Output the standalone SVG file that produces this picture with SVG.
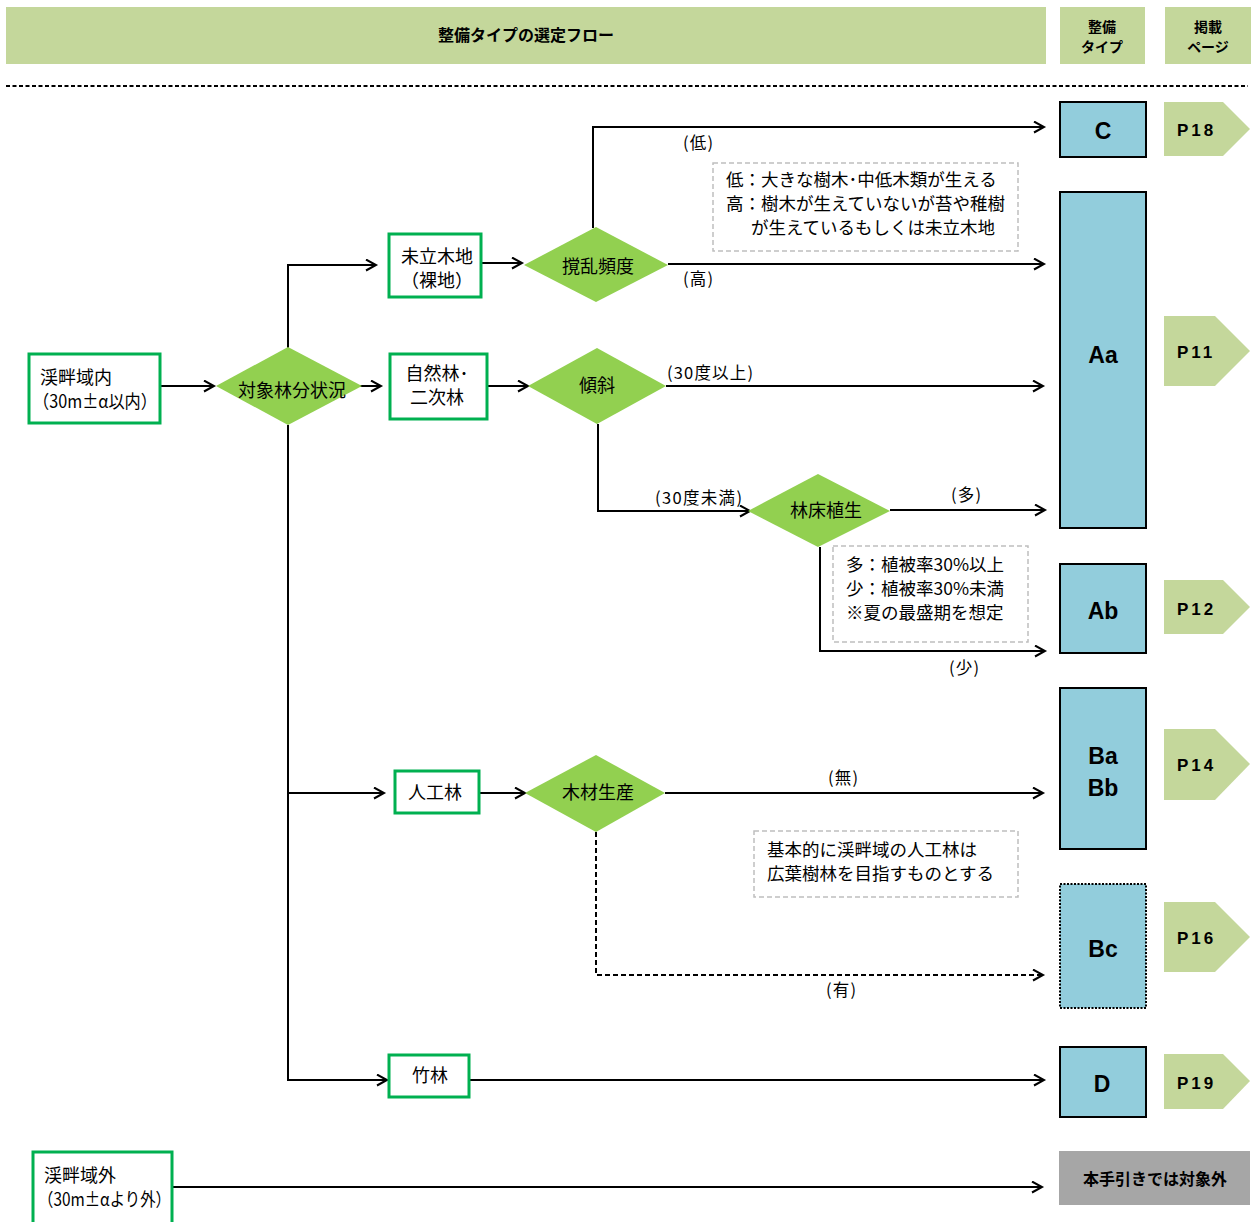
<svg xmlns="http://www.w3.org/2000/svg" width="1251" height="1222" viewBox="0 0 1251 1222">
<defs>
<style>
text{font-family:"Noto Sans CJK JP","Noto Sans",sans-serif;fill:#000}
.hdr{fill:#c4d79b}
.hdrt{font-size:16px;font-weight:bold;text-anchor:middle}
.hs{font-size:14px;font-weight:bold;text-anchor:middle}
.box{fill:#fff;stroke:#00b050;stroke-width:3}
.dia{fill:#92d050}
.nt{font-size:18px}
.ntc{font-size:18px;text-anchor:middle}
.lbl{font-size:16.5px}
.note{fill:#fff;stroke:#bfbfbf;stroke-width:1.5;stroke-dasharray:5 3}
.nt2{font-size:17.5px}
.type{fill:#92cddc;stroke:#000;stroke-width:2}
.typet{font-family:"Liberation Sans",Arial,sans-serif;font-size:23px;font-weight:bold;text-anchor:middle}
.tag{fill:#c4d79b}
.tagt{font-family:"Liberation Sans",Arial,sans-serif;font-size:17px;font-weight:bold;letter-spacing:3px}
.ln{fill:none;stroke:#000;stroke-width:2}
.dash{stroke-dasharray:5 3}
</style>
<marker id="arr" markerUnits="userSpaceOnUse" markerWidth="14" markerHeight="14" refX="11" refY="6" orient="auto">
<path d="M1,0.5 L11,6 L1,11.5" fill="none" stroke="#000" stroke-width="2"/>
</marker>
</defs>
<rect width="1251" height="1222" fill="#fff"/>

<g id="header">
<rect class="hdr" x="6" y="7" width="1040" height="57"/>
<text class="hdrt" x="526" y="41">整備タイプの選定フロー</text>
<rect class="hdr" x="1060" y="7" width="85" height="57"/>
<text class="hs" x="1102" y="32">整備</text>
<text class="hs" x="1102" y="52">タイプ</text>
<rect class="hdr" x="1165" y="7" width="86" height="57"/>
<text class="hs" x="1208" y="32">掲載</text>
<text class="hs" x="1208" y="52">ページ</text>
<line x1="6" y1="86" x2="1248" y2="86" stroke="#000" stroke-width="2" stroke-dasharray="4 2.5"/>
</g>

<g id="connectors">
<path class="ln" d="M160,386 H214" marker-end="url(#arr)"/>
<path class="ln" d="M288,348 V265 H376" marker-end="url(#arr)"/>
<path class="ln" d="M360,386 H381" marker-end="url(#arr)"/>
<path class="ln" d="M288,425 V1080 H387" marker-end="url(#arr)"/>
<path class="ln" d="M288,793 H384" marker-end="url(#arr)"/>
<path class="ln" d="M481,263 H522" marker-end="url(#arr)"/>
<path class="ln" d="M593,228 V127 H1044" marker-end="url(#arr)"/>
<path class="ln" d="M668,264 H1044" marker-end="url(#arr)"/>
<path class="ln" d="M487,386 H528" marker-end="url(#arr)"/>
<path class="ln" d="M666,386 H1043" marker-end="url(#arr)"/>
<path class="ln" d="M598,424 V511 H750" marker-end="url(#arr)"/>
<path class="ln" d="M890,510 H1045" marker-end="url(#arr)"/>
<path class="ln" d="M820,547 V651 H1045" marker-end="url(#arr)"/>
<path class="ln" d="M479,793 H525" marker-end="url(#arr)"/>
<path class="ln" d="M665,793 H1043" marker-end="url(#arr)"/>
<path class="ln dash" d="M596,832 V975 H1043" marker-end="url(#arr)"/>
<path class="ln" d="M469,1080 H1044" marker-end="url(#arr)"/>
<path class="ln" d="M172,1187 H1042" marker-end="url(#arr)"/>
<text class="lbl" x="683" y="149" textLength="30">(低)</text>
<text class="lbl" x="683" y="285" textLength="30">(高)</text>
<text class="lbl" x="667" y="379" textLength="86">(30度以上)</text>
<text class="lbl" x="655" y="504" textLength="87">(30度未満)</text>
<text class="lbl" x="951" y="501" textLength="30">(多)</text>
<text class="lbl" x="949" y="674" textLength="30">(少)</text>
<text class="lbl" x="828" y="784" textLength="30">(無)</text>
<text class="lbl" x="826" y="996" textLength="30">(有)</text>
</g>

<g id="n-keihan-nai">
<rect class="box" x="29" y="354" width="131" height="69"/>
<text class="nt" x="40" y="384">渓畔域内</text>
<text class="nt" x="33" y="408" textLength="124" lengthAdjust="spacingAndGlyphs">（30m±α以内）</text>
</g>

<g id="n-taisho">
<polygon class="dia" points="216,386 288,347 362,386 288,425"/>
<text class="ntc" x="292" y="397">対象林分状況</text>
</g>

<g id="n-miryuboku">
<rect class="box" x="389" y="234" width="92" height="63"/>
<text class="ntc" x="437" y="263">未立木地</text>
<text class="ntc" x="437" y="287">（裸地）</text>
</g>

<g id="n-kakuran">
<polygon class="dia" points="524,265 596,227 668,265 596,302"/>
<text class="ntc" x="598" y="273">撹乱頻度</text>
</g>

<g id="note-kakuran">
<rect class="note" x="713" y="163" width="305" height="88"/>
<text class="nt2" x="726" y="186">低：大きな樹木･中低木類が生える</text>
<text class="nt2" x="726" y="210">高：樹木が生えていないが苔や稚樹</text>
<text class="nt2" x="751" y="234">が生えているもしくは未立木地</text>
</g>

<g id="n-shizenrin">
<rect class="box" x="390" y="354" width="97" height="65"/>
<text class="ntc" x="437" y="380">自然林･</text>
<text class="ntc" x="437" y="404">二次林</text>
</g>

<g id="n-keisha">
<polygon class="dia" points="528,386 597,348 666,386 597,424"/>
<text class="ntc" x="597" y="392">傾斜</text>
</g>

<g id="n-rinsho">
<polygon class="dia" points="748,511 818,474 890,511 818,547"/>
<text class="ntc" x="826" y="517">林床植生</text>
</g>

<g id="note-rinsho">
<rect class="note" x="833" y="546" width="195" height="96"/>
<text class="nt2" x="846" y="571">多：植被率30%以上</text>
<text class="nt2" x="846" y="595">少：植被率30%未満</text>
<text class="nt2" x="846" y="619">※夏の最盛期を想定</text>
</g>

<g id="n-jinkorin">
<rect class="box" x="395" y="771" width="84" height="42"/>
<text class="ntc" x="435" y="799">人工林</text>
</g>

<g id="n-mokuzai">
<polygon class="dia" points="525,793 596,755 665,793 596,832"/>
<text class="ntc" x="598" y="799">木材生産</text>
</g>

<g id="note-jinko">
<rect class="note" x="754" y="831" width="264" height="66"/>
<text class="nt2" x="767" y="856">基本的に渓畔域の人工林は</text>
<text class="nt2" x="767" y="880">広葉樹林を目指すものとする</text>
</g>

<g id="n-chikurin">
<rect class="box" x="389" y="1055" width="80" height="42"/>
<text class="ntc" x="430" y="1082">竹林</text>
</g>

<g id="n-keihan-gai">
<rect class="box" x="33" y="1152" width="139" height="72"/>
<text class="nt" x="44" y="1182">渓畔域外</text>
<text class="nt" x="38" y="1206" textLength="133" lengthAdjust="spacingAndGlyphs">（30m±αより外）</text>
</g>

<g id="t-C">
<rect class="type" x="1060" y="102" width="86" height="55"/>
<text class="typet" x="1103" y="139">C</text>
</g>
<g id="t-Aa">
<rect class="type" x="1060" y="192" width="86" height="336"/>
<text class="typet" x="1103" y="363">Aa</text>
</g>
<g id="t-Ab">
<rect class="type" x="1060" y="564" width="86" height="89"/>
<text class="typet" x="1103" y="619">Ab</text>
</g>
<g id="t-Ba">
<rect class="type" x="1060" y="688" width="86" height="161"/>
<text class="typet" x="1103" y="764">Ba</text>
<text class="typet" x="1103" y="796">Bb</text>
</g>
<g id="t-Bc">
<rect class="type" x="1060" y="884" width="86" height="124" stroke-width="1.5" stroke-dasharray="2 1.5"/>
<text class="typet" x="1103" y="957">Bc</text>
</g>
<g id="t-D">
<rect class="type" x="1060" y="1047" width="86" height="70"/>
<text class="typet" x="1102" y="1092">D</text>
</g>
<g id="t-out">
<rect x="1059" y="1151" width="191" height="54" fill="#a6a6a6"/>
<text class="hdrt" x="1155" y="1185" font-size="15px">本手引きでは対象外</text>
</g>

<g id="p18">
<polygon class="tag" points="1164,102 1223,102 1250,129 1223,156 1164,156"/>
<text class="tagt" x="1177" y="136">P18</text>
</g>
<g id="p11">
<polygon class="tag" points="1164,316 1215,316 1250,351 1215,386 1164,386"/>
<text class="tagt" x="1177" y="358">P11</text>
</g>
<g id="p12">
<polygon class="tag" points="1164,580 1223,580 1250,607 1223,634 1164,634"/>
<text class="tagt" x="1177" y="615">P12</text>
</g>
<g id="p14">
<polygon class="tag" points="1164,729 1215,729 1250,764 1215,800 1164,800"/>
<text class="tagt" x="1177" y="771">P14</text>
</g>
<g id="p16">
<polygon class="tag" points="1164,902 1215,902 1250,937 1215,972 1164,972"/>
<text class="tagt" x="1177" y="944">P16</text>
</g>
<g id="p19">
<polygon class="tag" points="1164,1054 1223,1054 1250,1081 1223,1109 1164,1109"/>
<text class="tagt" x="1177" y="1089">P19</text>
</g>
</svg>
